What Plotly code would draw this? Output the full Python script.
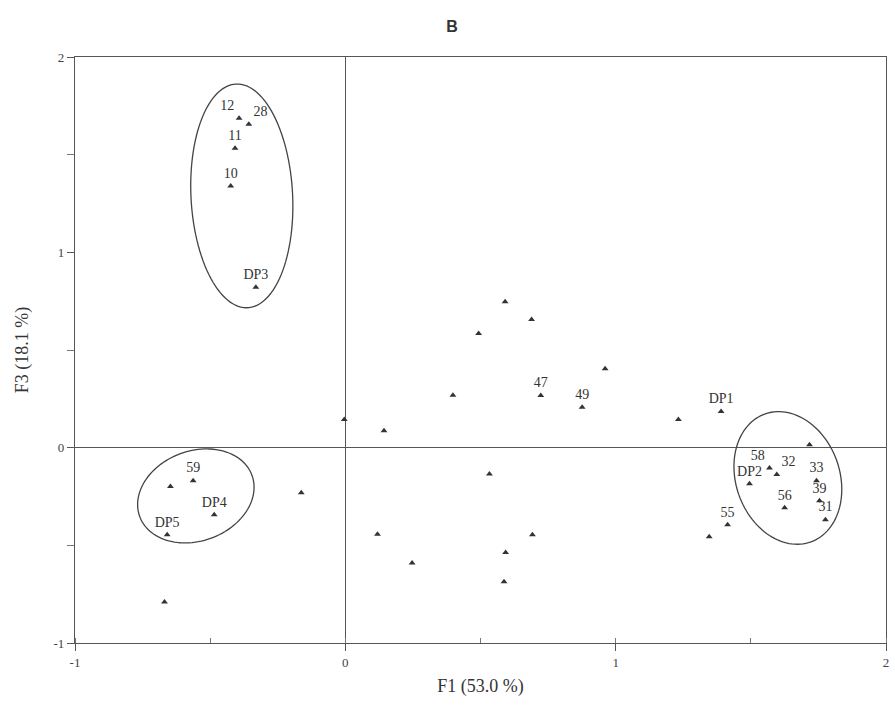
import numpy as np
import plotly.graph_objects as go

# ---- data (F1, F3 scores) ----
labels = ["12", "28", "11", "10", "DP3",
          "59", "", "DP4", "DP5", "", "",
          "DP1", "", "", "58", "32", "DP2", "33", "39", "31", "56", "55", "",
          "", "", "", "", "47", "49", "", "", "", "", "", "", "", "", ""]
f1 = [-0.393, -0.357, -0.408, -0.424, -0.331,
      -0.563, -0.647, -0.485, -0.659, -0.669, -0.163,
      1.390, 1.232, 1.717, 1.569, 1.596, 1.495, 1.743, 1.754, 1.776, 1.625, 1.414, 1.346,
      0.591, 0.689, 0.493, 0.961, 0.723, 0.876, 0.398, -0.004, 0.143, 0.533, 0.119, 0.692, 0.593, 0.247,
      0.587]
f3 = [1.687, 1.656, 1.533, 1.340, 0.821,
      -0.169, -0.199, -0.344, -0.446, -0.790, -0.231,
      0.185, 0.144, 0.015, -0.104, -0.138, -0.185, -0.169, -0.272, -0.369, -0.308, -0.395, -0.456,
      0.747, 0.656, 0.585, 0.404, 0.267, 0.207, 0.268, 0.144, 0.087, -0.135, -0.443, -0.446, -0.537, -0.591,
      -0.686]

x_ticks = [-1, 0, 1, 2]
y_ticks = [-1, 0, 1, 2]

# group ellipses: centre (data), semi-axes (px), rotation (deg)
ell_cx = [-0.383, -0.553, 1.637]
ell_cy = [1.289, -0.247, -0.155]
ell_a = [112, 60, 68]
ell_b = [51, 45, 52]
ell_ang = [93, 20, -70]

W, H = 895, 717
ml, mr, mt, mb = 75, 6, 57, 74
sx = (W - ml - mr) / 3.0
sy = (H - mt - mb) / 3.0


def ellipse_path(cx, cy, a, b, ang):
    t = np.linspace(0, 2 * np.pi, 120)
    th = np.radians(ang)
    u, v = a * np.cos(t), b * np.sin(t)
    dx = u * np.cos(th) - v * np.sin(th)
    dy = u * np.sin(th) + v * np.cos(th)
    xs = cx + dx / sx
    ys = cy + dy / sy
    p = "M %f,%f " % (xs[0], ys[0])
    p += " ".join("L %f,%f" % (x, y) for x, y in zip(xs[1:], ys[1:]))
    return p + " Z"


# label placement (to separate crowded labels)
side = {"12": "top left", "28": "top right", "58": "top left", "32": "top right"}
positions = [side.get(l, "top center") for l in labels]

fig = go.Figure()
fig.add_trace(go.Scatter(
    x=f1, y=f3, mode="markers+text", text=labels,
    textposition=positions,
    textfont=dict(family="Liberation Serif", size=14, color="#333333"),
    marker=dict(symbol="triangle-up", size=6, color="#333333"),
    hoverinfo="skip", showlegend=False, cliponaxis=False,
))

shapes = []
for cx, cy, a, b, ang in zip(ell_cx, ell_cy, ell_a, ell_b, ell_ang):
    shapes.append(dict(type="path", path=ellipse_path(cx, cy, a, b, ang),
                       xref="x", yref="y", line=dict(color="#444444", width=1.3)))
fig.update_layout(shapes=shapes)

axis_common = dict(
    showgrid=False, showline=True, linecolor="#555555", linewidth=1.2, mirror=True,
    zeroline=True, zerolinecolor="#555555", zerolinewidth=1.2,
    ticks="outside", ticklen=7, tickcolor="#555555",
    tickfont=dict(family="Liberation Serif", size=13, color="#444444"),
)
fig.update_xaxes(range=[-1, 2], tickvals=x_ticks, ticktext=[str(v) for v in x_ticks],
                 minor=dict(dtick=0.5, ticks="inside", ticklen=5, tickcolor="#777777"),
                 title=dict(text="F1 (53.0 %)", standoff=10,
                            font=dict(family="Liberation Serif", size=18, color="#333333")),
                 **axis_common)
fig.update_yaxes(range=[-1, 2], tickvals=y_ticks, ticktext=[str(v) for v in y_ticks],
                 minor=dict(dtick=0.5, ticks="outside", ticklen=7, tickcolor="#777777"),
                 title=dict(text="F3 (18.1 %)", standoff=20,
                            font=dict(family="Liberation Serif", size=18, color="#333333")),
                 **axis_common)

fig.update_layout(
    width=W, height=H,
    margin=dict(l=ml, r=mr, t=mt, b=mb),
    paper_bgcolor="white", plot_bgcolor="white",
    title=dict(text="<b>B</b>", x=0.505, xanchor="center", y=0.963, yanchor="middle",
               font=dict(family="Liberation Sans", size=16, color="#333333")),
)

fig.write_html("out.html")
